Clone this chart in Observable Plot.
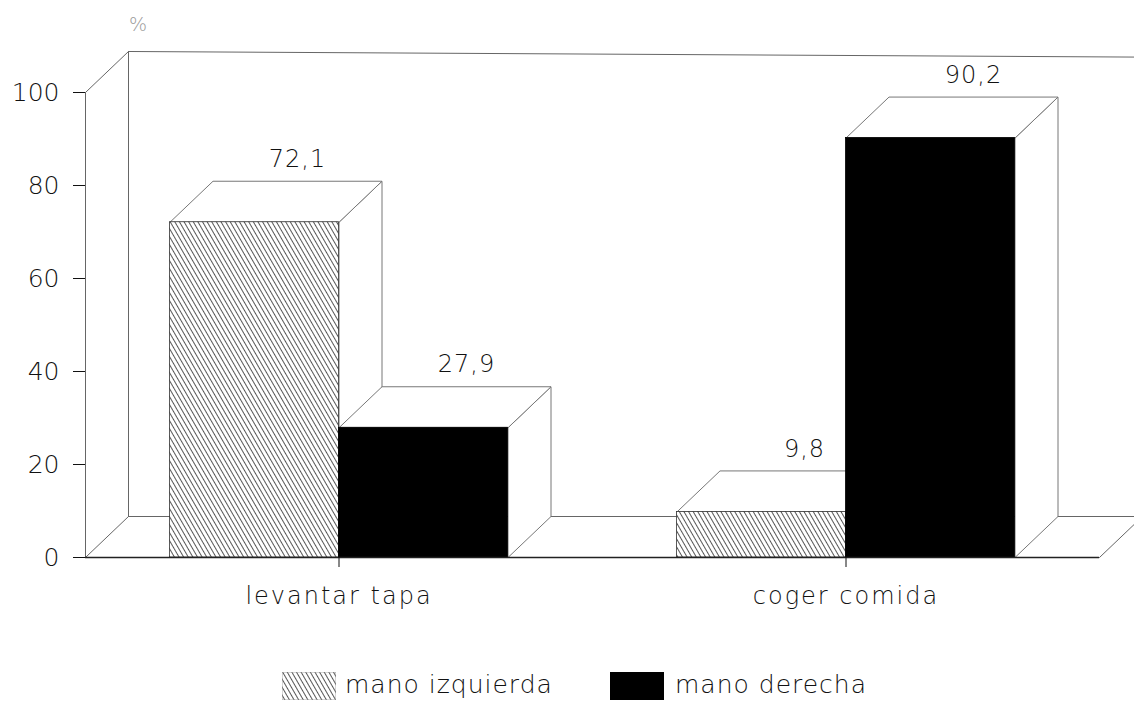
<!DOCTYPE html>
<html>
<head>
<meta charset="utf-8">
<script src="https://cdn.jsdelivr.net/npm/d3@7"></script>
<script src="https://cdn.jsdelivr.net/npm/@observablehq/plot@0.6"></script>
<style>
  html, body { margin: 0; padding: 0; background: #fff; overflow: hidden; }
  body { width: 1134px; height: 708px; font-family: "DejaVu Sans", sans-serif; font-weight: 200; }
  #chart svg { overflow: hidden; display: block; }
  #legend { position: relative; width: 1134px; height: 78px; }
  .sw { position: absolute; top: 42px; width: 54px; height: 28px; }
  .lt { position: absolute; top: 40px; font-size: 25px; color: #111; letter-spacing: 1px; }
</style>
</head>
<body>
<svg width="0" height="0" style="position:absolute">
  <defs>
    <pattern id="hatch" width="4" height="10" patternUnits="userSpaceOnUse" patternTransform="rotate(-30)">
      <rect width="4" height="10" fill="white"></rect>
      <line x1="0.5" y1="0" x2="0.5" y2="10" stroke="#444" stroke-width="0.9"></line>
    </pattern>
  </defs>
</svg>
<div id="chart"></div>
<div id="legend">
  <svg class="sw" style="left:282px" width="54" height="28"><rect x="0" y="0" width="54" height="28" fill="url(#hatch)" stroke="#999" stroke-width="0.8"></rect></svg>
  <div class="lt" style="left:345px">mano izquierda</div>
  <div class="sw" style="left:610px;background:#000"></div>
  <div class="lt" style="left:675px">mano derecha</div>
</div>
<script>
const categories = ["levantar tapa", "coger comida"];
const series = ["mano izquierda", "mano derecha"];
const manoIzquierda = [72.1, 9.8];
const manoDerecha = [27.9, 90.2];
const yTicks = [0, 20, 40, 60, 80, 100];

// 3D depth expressed in data units (x: slot units, y: percent units)
const DX = 43 / 169;
const DY = 41 / 4.65;
const fills = ["url(#hatch)", "#000"];

const bars = categories.flatMap((c, i) => series.map((s, j) => {
  const value = j === 0 ? manoIzquierda[i] : manoDerecha[i];
  const x1 = 0.5 + 3 * i + j;
  return {category: c, series: s, value, x1, x2: x1 + 1, fill: fills[j]};
}));

const rightFaces = bars.flatMap((b, k) => [
  {id: k, x: b.x2, y: b.value},
  {id: k, x: b.x2 + DX, y: b.value + DY},
  {id: k, x: b.x2 + DX, y: DY},
  {id: k, x: b.x2, y: 0},
  {id: k, x: b.x2, y: b.value}
]);
const topFaces = bars.flatMap((b, k) => [
  {id: k, x: b.x1, y: b.value},
  {id: k, x: b.x2, y: b.value},
  {id: k, x: b.x2 + DX, y: b.value + DY},
  {id: k, x: b.x1 + DX, y: b.value + DY},
  {id: k, x: b.x1, y: b.value}
]);

const XMAX = 6;
const XEDGE = 6.21;
const frame = [
  {id: "a", x: 0, y: 0}, {id: "a", x: 0, y: 100},
  {id: "b", x: 0, y: 100}, {id: "b", x: DX, y: 100 + DY},
  {id: "c", x: DX, y: 100 + DY}, {id: "c", x: XEDGE, y: 100 + DY - 1.2},
  {id: "d", x: DX, y: DY}, {id: "d", x: DX, y: 100 + DY},
  {id: "e", x: DX, y: DY}, {id: "e", x: XEDGE, y: DY},
  {id: "f", x: 0, y: 0}, {id: "f", x: DX, y: DY},
  {id: "g", x: XMAX, y: 0}, {id: "g", x: XMAX + DX, y: DY}
];

const fmt = d3.formatLocale({decimal: ",", thousands: ".", grouping: [3], currency: ["", ""]}).format(".1f");

const chart = Plot.plot({
  width: 1134,
  height: 630,
  marginLeft: 85,
  marginRight: 35,
  marginTop: 92,
  marginBottom: 73,
  style: {fontFamily: "DejaVu Sans, sans-serif", fontWeight: 200, color: "#111", background: "white"},
  x: {domain: [0, XMAX]},
  y: {domain: [0, 100]},
  marks: [
    Plot.line(frame, {x: "x", y: "y", z: "id", stroke: "#666", strokeWidth: 1}),
    Plot.line(rightFaces, {x: "x", y: "y", z: "id", fill: "white", stroke: "#777", strokeWidth: 1}),
    Plot.line(topFaces, {x: "x", y: "y", z: "id", fill: "white", stroke: "#777", strokeWidth: 1}),
    Plot.rect(bars, {x1: "x1", x2: "x2", y1: 0, y2: "value", fill: "fill", stroke: d => d.fill === "#000" ? "#000" : "#333", strokeWidth: 0.8}),
    Plot.ruleY([0], {x1: 0, x2: XMAX, stroke: "#222", strokeWidth: 1.3}),
    Plot.text(bars, {x: d => (d.x1 + d.x2) / 2 + DX, y: d => d.value + DY, text: d => fmt(d.value), dy: -22, fontSize: 24, fill: "#111"}),
    Plot.text(["%"], {x: DX, y: 100 + DY, text: d => d, dx: 10, dy: -27, fontSize: 19, fill: "#999"}),
    Plot.axisY({ticks: yTicks, tickSize: 12, tickPadding: 14, fontSize: 25, tickFormat: d => d}),
    Plot.axisX({ticks: [1.5, 4.5], tickFormat: d => categories[Math.round((d - 1.5) / 3)], tickSize: 10, tickPadding: 19, fontSize: 24})
  ]
});
d3.select(chart).selectAll('[aria-label="x-axis tick label"] text').style("letter-spacing", "2px");
d3.select(chart).selectAll('[aria-label="text"] text').style("letter-spacing", "1px");
document.getElementById("chart").appendChild(chart);
</script>
</body>
</html>
